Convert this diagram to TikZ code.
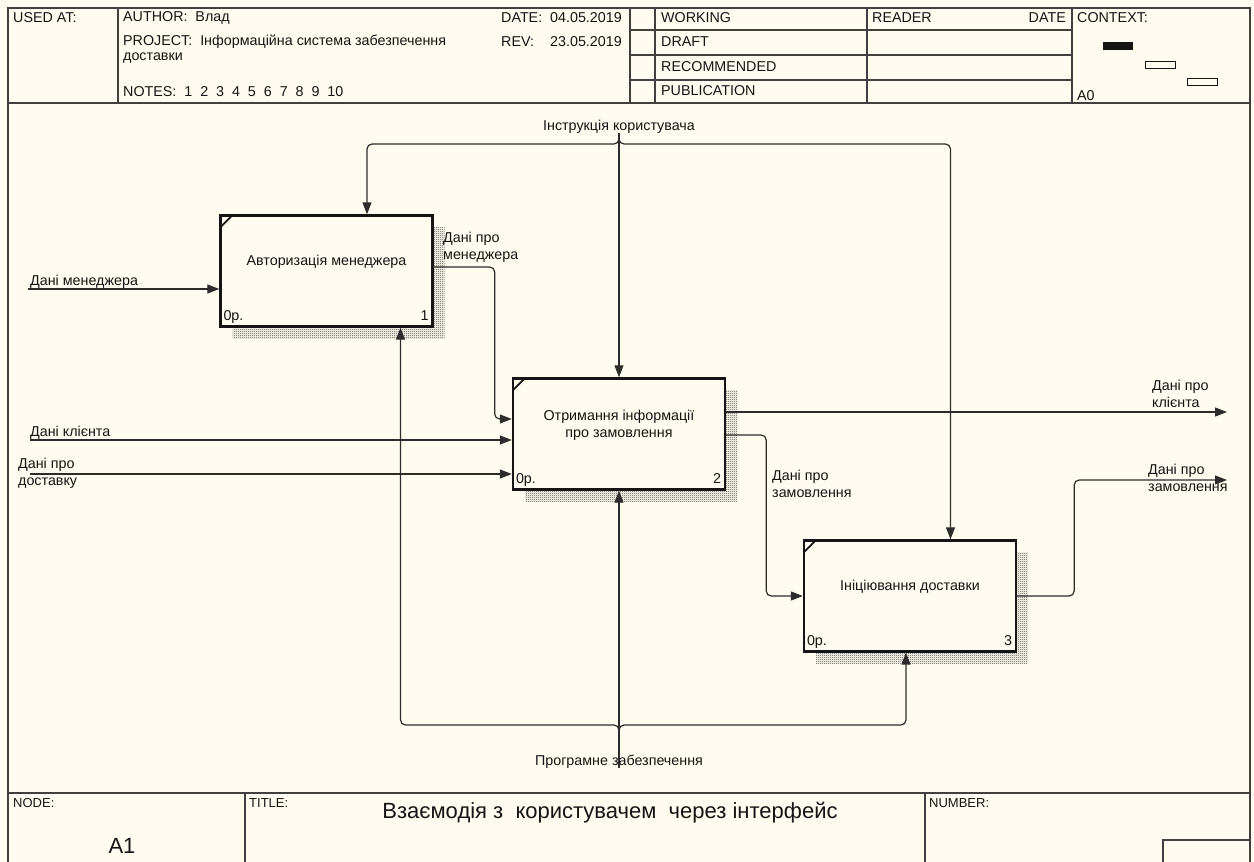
\documentclass[tikz,border=0pt]{standalone}
\usepackage{fontspec}
\setmainfont{Liberation Sans}
\usetikzlibrary{arrows.meta,shadows,patterns}
\definecolor{paper}{HTML}{FFFBF0}
\definecolor{ink}{HTML}{141414}
% fine checker used for the box shadows
\pgfdeclarepatternformonly{checker}{\pgfqpoint{0pt}{0pt}}{\pgfqpoint{2pt}{2pt}}{\pgfqpoint{2pt}{2pt}}{%
  \pgfpathrectangle{\pgfqpoint{0pt}{0pt}}{\pgfqpoint{1pt}{1pt}}%
  \pgfpathrectangle{\pgfqpoint{1pt}{1pt}}{\pgfqpoint{1pt}{1pt}}%
  \pgfusepath{fill}}
\begin{document}
\begin{tikzpicture}[x=1pt,y=-1pt,
  every node/.style={font=\fontsize{14.3}{17}\selectfont, inner sep=0pt, text=ink},
  rule/.style={draw=black!75, line width=1.2pt},
  fbox/.style={draw=ink, line width=2.4pt, fill=paper, minimum width=212pt, minimum height=111pt,
     drop shadow={shadow xshift=12pt, shadow yshift=-12pt, opacity=1, pattern=checker, pattern color=black!70}},
  flow/.style={draw=ink!90, line width=1.2pt, rounded corners=5pt},
  arr/.style={flow, -{Triangle[length=12pt,width=9pt]}},
  lbl/.style={align=left, anchor=north west},
  small/.style={font=\fontsize{13}{15}\selectfont},
]
% sheet
\fill[paper] (0,0) rectangle (1254,862);
\useasboundingbox (0,0) rectangle (1254,862);
\draw[rule] (8,8) rectangle (1250,870);

% header grid
\draw[rule] (8,103) -- (1250,103);
\foreach \xx in {118,630,655,867,1072} \draw[rule] (\xx,8) -- (\xx,103);
\foreach \yy in {30,55,80} \draw[rule] (630,\yy) -- (1072,\yy);

% header text
\node[anchor=west] (usedat) at (13,18) {USED AT:};
\node[anchor=west] (author) at (123,18) {AUTHOR:~~Влад};
\node[anchor=west] (project) at (123,42) {PROJECT:~~Інформаційна система забезпечення};
\node[anchor=west] (project2) at (123,58) {доставки};
\node[anchor=west] (notes) at (123,92) {NOTES:~~1~~2~~3~~4~~5~~6~~7~~8~~9~~10};
\node[anchor=west] (datek) at (501,18) {DATE:};
\node[anchor=west] (datev) at (550,18) {04.05.2019};
\node[anchor=west] (revk) at (501,42) {REV:};
\node[anchor=west] (revv) at (550,42) {23.05.2019};
\node[anchor=west] (working) at (661,18) {WORKING};
\node[anchor=west] (draft) at (661,42) {DRAFT};
\node[anchor=west] (recomm) at (661,67) {RECOMMENDED};
\node[anchor=west] (public) at (661,91) {PUBLICATION};
\node[anchor=west] (reader) at (872,18) {READER};
\node[anchor=east] (rdate) at (1066,18) {DATE};
\node[anchor=west] (context) at (1077,18) {CONTEXT:};
\node[anchor=west] (ctxnode) at (1077,96) {A0};
\fill[ink] (1103,42) rectangle (1133,50);
\draw[ink, line width=1pt] (1145,61) rectangle (1175,68);
\draw[ink, line width=1pt] (1187,78) rectangle (1217,85);

% footer grid
\draw[rule] (8,793) -- (1250,793);
\draw[rule] (245,793) -- (245,870);
\draw[rule] (925,793) -- (925,870);
\draw[rule] (1163,870) -- (1163,840) -- (1250,840);
\node[anchor=west, small] (nodek) at (13,803) {NODE:};
\node[anchor=west, small] (titlek) at (249,803) {TITLE:};
\node[anchor=west, small] (numberk) at (929,803) {NUMBER:};
\node[font=\fontsize{22}{25}\selectfont] (title) at (610,813) {Взаємодія з~ користувачем~ через інтерфейс};
\node[font=\fontsize{22}{25}\selectfont] (nodeid) at (122,846) {A1};

% activity boxes
\node[fbox] (b1) at (326.5,271) {};
\node[fbox] (b2) at (619,434) {};
\node[fbox] (b3) at (910,596) {};
\foreach \bx in {b1,b2,b3}
  \draw[ink, line width=1.8pt] ([shift={(1pt,-13pt)}]\bx.north west) -- ([shift={(13pt,-1pt)}]\bx.north west);

\node (b1t) at ([yshift=9pt]b1.center) {Авторизація менеджера};
\node[align=center] (b2t) at ([yshift=9pt]b2.center) {Отримання інформації\\про замовлення};
\node (b3t) at ([yshift=9pt]b3.center) {Ініціювання доставки};
\node[anchor=base west] (b1c) at ([shift={(4pt,7pt)}]b1.south west) {0р.};
\node[anchor=base east] (b1n) at ([shift={(-5pt,7pt)}]b1.south east) {1};
\node[anchor=base west] (b2c) at ([shift={(4pt,7pt)}]b2.south west) {0р.};
\node[anchor=base east] (b2n) at ([shift={(-5pt,7pt)}]b2.south east) {2};
\node[anchor=base west] (b3c) at ([shift={(4pt,7pt)}]b3.south west) {0р.};
\node[anchor=base east] (b3n) at ([shift={(-5pt,7pt)}]b3.south east) {3};

% inputs
\coordinate (inMgr) at (28,289);
\coordinate (inCli) at (30,440);
\coordinate (inDel) at (30,474);
\draw[arr] (inMgr) -- (inMgr -| b1.west);
\draw[arr] (inCli) -- (inCli -| b2.west);
\draw[arr] (inDel) -- (inDel -| b2.west);

% flows between activities
\draw[arr] ([yshift=4pt]b1.east) -- ++(61pt,0) |- ([yshift=15pt]b2.west);
\draw[arr] ([yshift=-1pt]b2.east) -- ++(40pt,0) |- (b3.west);

% outputs
\coordinate (outCli) at (1227,412);
\coordinate (outOrd) at (1227,480);
\draw[arr] (b2.east |- outCli) -- (outCli);
\draw[arr] (b3.east) -- ++(57pt,0) |- (outOrd);

% control
\coordinate (ctlTop) at (619,133);
\coordinate (ctlJ) at (619,144);
\draw[arr] (ctlTop) -- (b2.north);
\draw[arr] ([yshift=6pt]ctlJ) -- (ctlJ) -| ([xshift=40.5pt]b1.north);
\draw[arr] ([yshift=6pt]ctlJ) -- (ctlJ) -| ([xshift=40.5pt]b3.north);

% mechanism
\coordinate (mecBot) at (619,768);
\coordinate (mecJ) at (619,725);
\draw[arr] (mecBot) -- (b2.south);
\draw[arr] ([yshift=-6pt]mecJ) -- (mecJ) -| ([xshift=74pt]b1.south);
\draw[arr] ([yshift=-6pt]mecJ) -- (mecJ) -| ([xshift=-4pt]b3.south);

% arrow labels
\node[anchor=base west] (lMgr) at (30,285) {Дані менеджера};
\node[lbl] (lMgrOut) at (443,232) {Дані про\\менеджера};
\node[anchor=base west] (lCli) at (30,436) {Дані клієнта};
\node[lbl] (lDel) at (18,458) {Дані про\\доставку};
\node[lbl] (lCliOut) at (1152,380) {Дані про\\клієнта};
\node[lbl] (lOrdMid) at (772,470) {Дані про\\замовлення};
\node[lbl] (lOrdOut) at (1148,464) {Дані про\\замовлення};
\node[anchor=base] (lCtl) at (619,130) {Інструкція користувача};
\node[anchor=base] (lMec) at (619,765) {Програмне забезпечення};
\end{tikzpicture}
\end{document}
